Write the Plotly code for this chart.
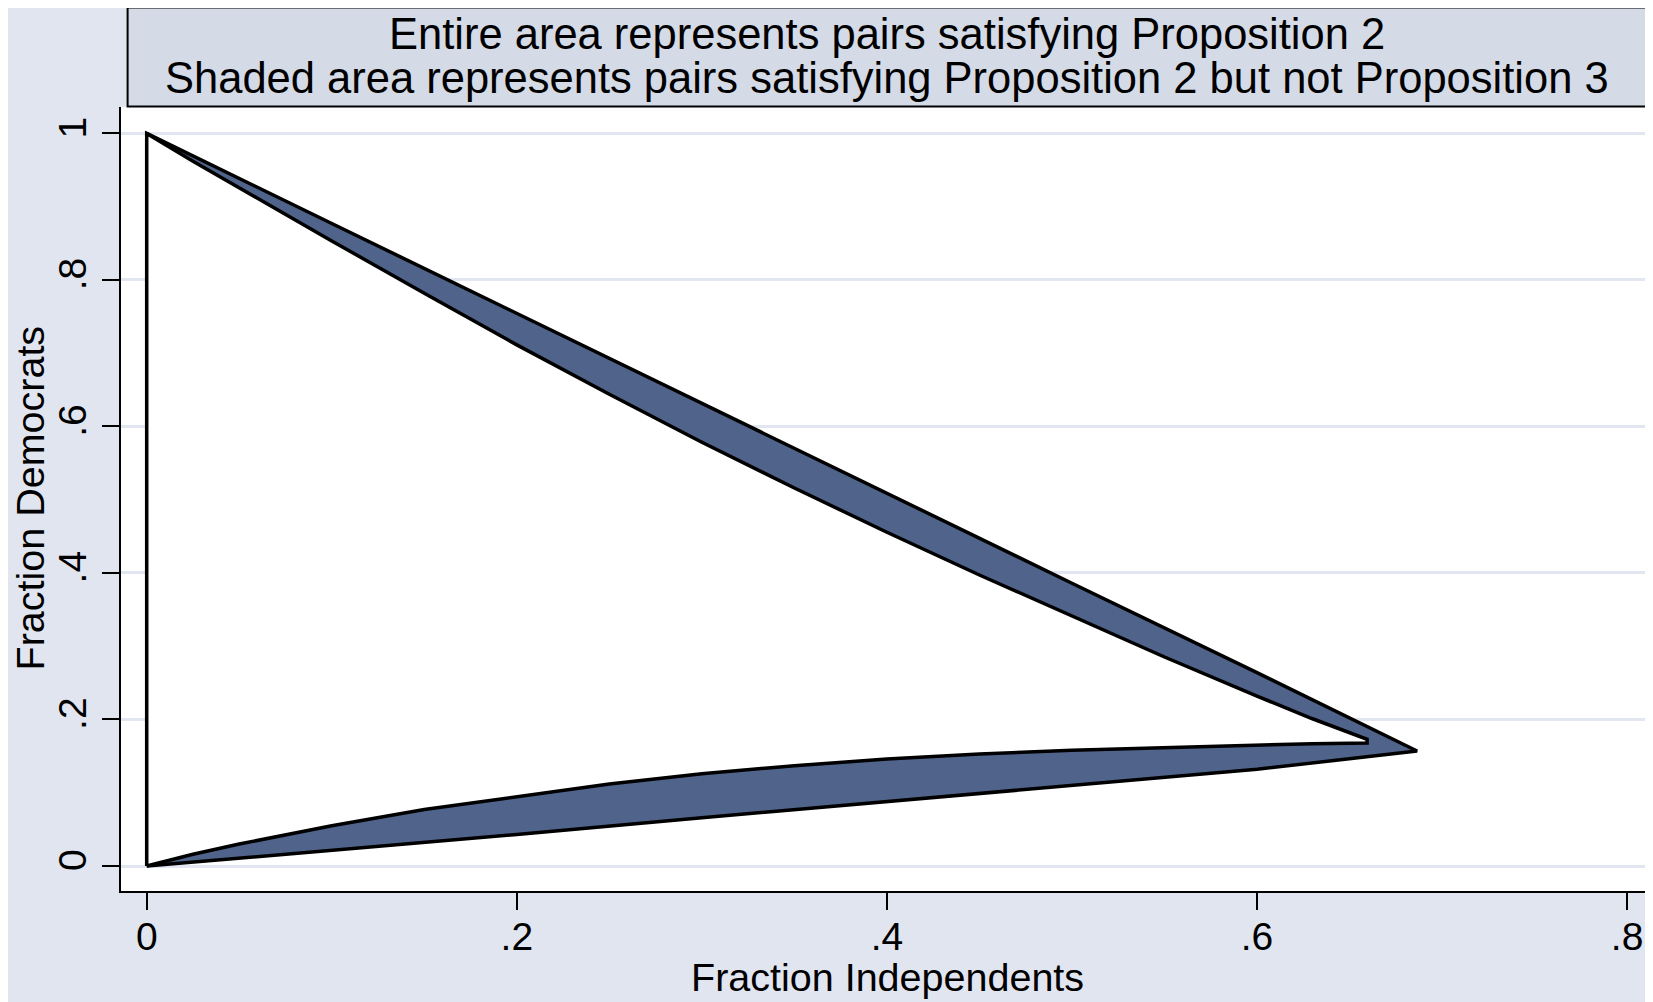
import plotly.graph_objects as go

# ---- data ----
# outer boundary, upper edge: from (0,1) to the tip
outer_upper_x = [0.0, 0.1, 0.2, 0.3, 0.4, 0.5, 0.6, 0.6865]
outer_upper_y = [1.0, 0.877, 0.754, 0.631, 0.509, 0.386, 0.264, 0.157]
# outer boundary, lower edge: from (0,0) to the tip
outer_lower_x = [0.0, 0.1, 0.2, 0.3, 0.4, 0.5, 0.6, 0.6865]
outer_lower_y = [0.0, 0.021, 0.043, 0.066, 0.089, 0.110, 0.132, 0.157]
# inner (unshaded) region, upper edge: from (0,1) to the notch
inner_upper_x = [0.0, 0.025, 0.05, 0.1, 0.15, 0.2, 0.25, 0.3, 0.35, 0.4, 0.45, 0.5, 0.55,
                 0.6, 0.63, 0.6595, 0.6595]
inner_upper_y = [1.0, 0.962, 0.9256, 0.8532, 0.7817, 0.7113, 0.6439, 0.5785, 0.516, 0.4556,
                 0.3972, 0.3408, 0.2853, 0.2319, 0.201, 0.173, 0.168]
# inner region, lower edge: from (0,0) to the notch
inner_lower_x = [0.0, 0.025, 0.05, 0.1, 0.15, 0.2, 0.25, 0.3, 0.35, 0.4, 0.45, 0.5, 0.55, 0.6, 0.63, 0.6595]
inner_lower_y = [0.0, 0.016, 0.030, 0.055, 0.077, 0.095, 0.112, 0.126, 0.137, 0.146, 0.153,
                 0.158, 0.162, 0.165, 0.167, 0.168]

x_ticks = [0, 0.2, 0.4, 0.6, 0.8]
x_ticklabels = ["0", ".2", ".4", ".6", ".8"]
y_ticks = [0, 0.2, 0.4, 0.6, 0.8, 1.0]
y_ticklabels = ["0", ".2", ".4", ".6", ".8", "1"]

caption_lines = [
    "Entire area represents pairs satisfying Proposition 2",
    "Shaded area represents pairs satisfying Proposition 2 but not Proposition 3",
]
x_title = "Fraction Independents"
y_title = "Fraction Democrats"

# ---- styles ----
BG = "#E1E5F0"
BOX = "#D4DAE6"
GRID = "#E1E6F1"
FILL = "#50638A"
FONT = "Liberation Sans"
LW = 3.5

outer_x = [0.0] + outer_upper_x + outer_lower_x[::-1]
outer_y = [0.0] + outer_upper_y + outer_lower_y[::-1]
inner_x = [0.0] + inner_upper_x + inner_lower_x[::-1]
inner_y = [0.0] + inner_upper_y + inner_lower_y[::-1]

fig = go.Figure()
fig.add_trace(go.Scatter(x=outer_x, y=outer_y, mode="lines", fill="toself",
                         fillcolor=FILL, line=dict(color="black", width=LW),
                         hoverinfo="skip", showlegend=False))
fig.add_trace(go.Scatter(x=inner_x, y=inner_y, mode="lines", fill="toself",
                         fillcolor="white", line=dict(color="black", width=LW),
                         hoverinfo="skip", showlegend=False))

OFF = 8  # default page margin of the html body
W, H = 1653 - OFF, 1002 - OFF
L, R, T, B = 121 - OFF, 0, 107 - OFF, 111
fig.update_layout(
    width=W, height=H,
    margin=dict(l=L, r=R, t=T, b=B, pad=0),
    paper_bgcolor=BG, plot_bgcolor="white",
    font=dict(family=FONT, color="black", size=38),
    showlegend=False,
    xaxis=dict(range=[-0.0139, 0.814], tickvals=x_ticks, ticktext=x_ticklabels,
               showgrid=False, zeroline=False, showline=True, linecolor="black",
               linewidth=2, ticks="outside", ticklen=17, tickwidth=2,
               tickcolor="black", tickfont=dict(size=39), ticklabelstandoff=-7),
    yaxis=dict(range=[-0.0341, 1.036], tickvals=y_ticks, ticktext=y_ticklabels,
               showgrid=True, gridcolor=GRID, gridwidth=3, zeroline=False,
               showline=True, linecolor="black", linewidth=2, ticks="outside",
               ticklen=17, tickwidth=2, tickcolor="black", tickangle=-90,
               tickfont=dict(size=39)),
)

pw = W - L - R
ph = H - T - B
def px_x(p):
    return (p - OFF - L) / pw
def px_y(p):
    return (H - B - (p - OFF)) / ph

fig.add_shape(type="rect", xref="paper", yref="paper",
              x0=px_x(127.6), x1=px_x(1646.7), y0=px_y(106.5), y1=px_y(7.4),
              fillcolor=BOX, line=dict(color="black", width=2), layer="above")
fig.add_annotation(text=caption_lines[0], xref="paper", yref="paper",
                   x=px_x(887), y=px_y(34), showarrow=False,
                   xanchor="center", yanchor="middle", font=dict(size=43.5))
fig.add_annotation(text=caption_lines[1], xref="paper", yref="paper",
                   x=px_x(887), y=px_y(78), showarrow=False,
                   xanchor="center", yanchor="middle", font=dict(size=43.5))
fig.add_annotation(text=x_title, xref="paper", yref="paper",
                   x=px_x(887), y=px_y(977), showarrow=False,
                   xanchor="center", yanchor="middle", font=dict(size=39.5))
fig.add_annotation(text=y_title, xref="paper", yref="paper",
                   x=px_x(29.5), y=px_y(498), showarrow=False, textangle=-90,
                   xanchor="center", yanchor="middle", font=dict(size=39.5))

fig.write_html("out.html")
